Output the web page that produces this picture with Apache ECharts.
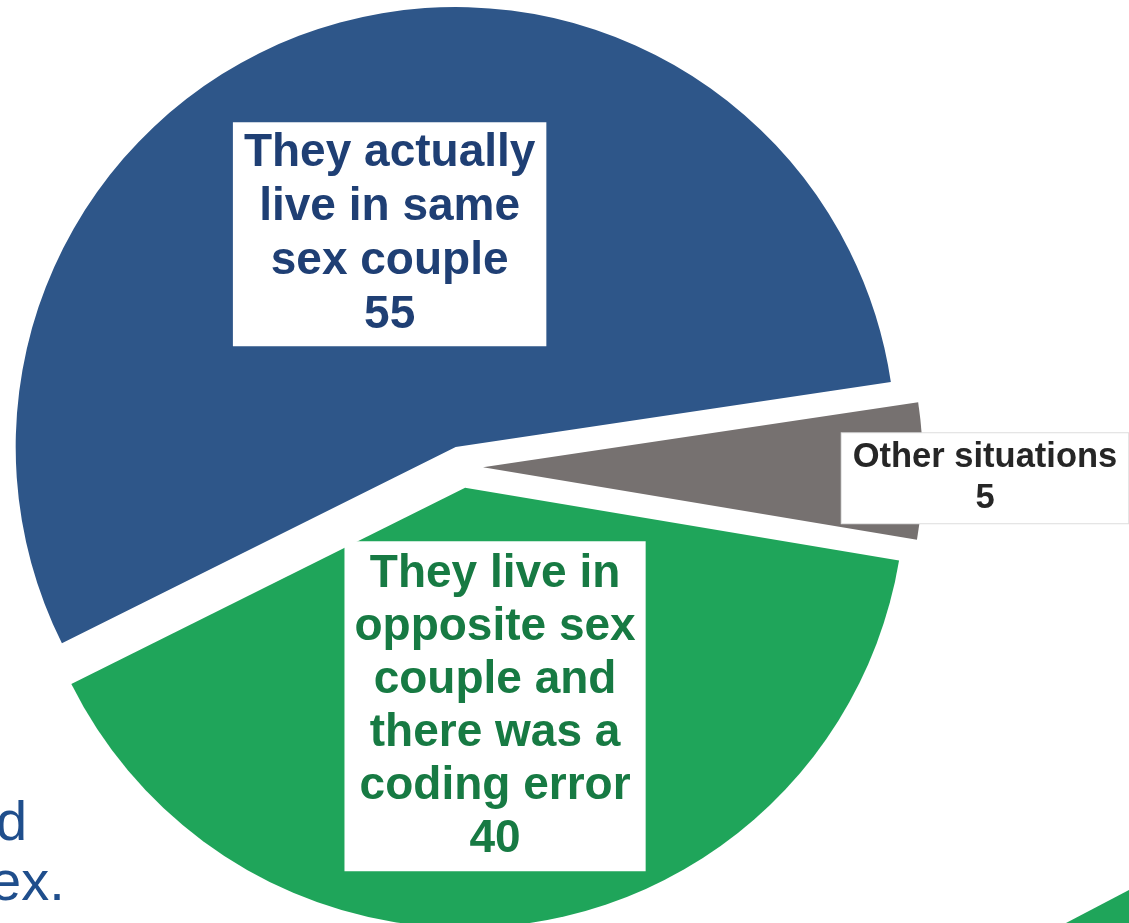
<!DOCTYPE html>
<html>
<head>
<meta charset="utf-8">
<script src="https://cdn.jsdelivr.net/npm/echarts@6/dist/echarts.min.js"></script>
<style>
    html, body { margin: 0; padding: 0; background: #fff; }
    #main { width: 1129px; height: 923px; }
</style>
</head>
<body>
<div id="main"></div>
<script>
// slice names and values, in drawing order (clockwise from startAngle)
const categories = [
    'They actually\nlive in same\nsex couple',
    'Other situations',
    'They live in\nopposite sex\ncouple and\nthere was a\ncoding error'
];
const values = [55, 5, 40];

// styling per slice
const sliceColors = ['#2E5689', '#767170', '#1FA55A'];
const labelColors = ['#1F3F74', '#262626', '#177A43'];
const labelSizes = [46, 34.5, 46];
const labelLineHeights = [54, 41, 53];
const labelPads = [[4, 11], [4, 11], [6, 10]];
const labelShift = [[1, 0], [279, 9], [-3, -2]];

let chart = echarts.init(document.getElementById('main'));

let data = values.map((v, i) => ({
    name: categories[i],
    value: v,
    selected: true,
    itemStyle: { color: sliceColors[i] },
    label: {
        color: labelColors[i],
        fontSize: labelSizes[i],
        lineHeight: labelLineHeights[i],
        padding: labelPads[i],
        borderColor: i === 1 ? '#dddddd' : 'transparent',
        borderWidth: i === 1 ? 1 : 0
    }
}));

let option = {
    animation: false,
    backgroundColor: '#ffffff',
    series: [
        {
            type: 'pie',
            center: [462, 467],
            radius: [0, 440],
            startAngle: 206.5,
            clockwise: true,
            selectedMode: 'multiple',
            selectedOffset: 21,
            emphasis: { disabled: true },
            itemStyle: { borderWidth: 0 },
            label: {
                show: true,
                position: 'inside',
                fontFamily: 'Liberation Sans, Arial, sans-serif',
                fontWeight: 'bold',
                align: 'center',
                backgroundColor: '#ffffff',
                formatter: p => p.name + '\n' + p.value
            },
            // the small slice has its label pushed out to the right
            labelLayout: p => ({ dx: labelShift[p.dataIndex][0], dy: labelShift[p.dataIndex][1] }),
            labelLine: { show: false },
            data: data
        }
    ],
    // bits of the surrounding slide that are cut off by the frame
    graphic: [
        {
            type: 'text',
            left: -4,
            top: 797,
            style: {
                text: 'd',
                fill: '#1F4E8C',
                font: '56px Liberation Sans, Arial, sans-serif'
            }
        },
        {
            type: 'text',
            left: -10,
            top: 857,
            style: {
                text: 'ex.',
                fill: '#1F4E8C',
                font: '56px Liberation Sans, Arial, sans-serif'
            }
        },
        {
            type: 'polygon',
            shape: { points: [[1066, 923], [1129, 890], [1129, 923]] },
            style: { fill: '#1FA55A' }
        }
    ]
};

chart.setOption(option);
</script>
</body>
</html>
